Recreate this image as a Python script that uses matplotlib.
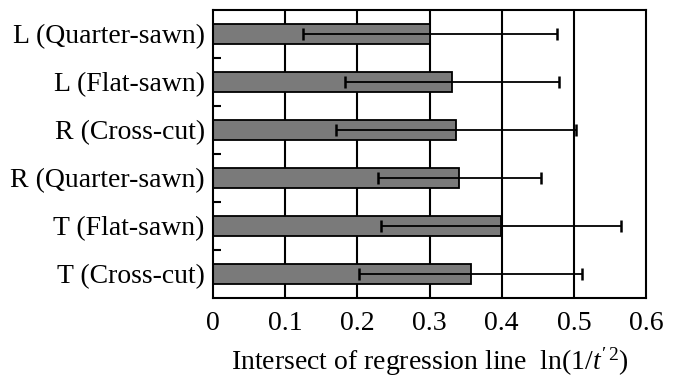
import matplotlib
matplotlib.use("Agg")
import matplotlib.pyplot as plt
import numpy as np

categories = ["L (Quarter-sawn)", "L (Flat-sawn)", "R (Cross-cut)",
              "R (Quarter-sawn)", "T (Flat-sawn)", "T (Cross-cut)"]
values = [0.301, 0.331, 0.337, 0.341, 0.399, 0.357]
errors = [0.176, 0.148, 0.166, 0.113, 0.166, 0.155]
xticks = [0, 0.1, 0.2, 0.3, 0.4, 0.5, 0.6]
xtick_labels = ["0", "0.1", "0.2", "0.3", "0.4", "0.5", "0.6"]

plt.rcParams['font.family'] = ['Liberation Serif', 'DejaVu Serif']
plt.rcParams['mathtext.fontset'] = 'custom'
plt.rcParams['mathtext.rm'] = 'Liberation Serif'
plt.rcParams['mathtext.it'] = 'Liberation Serif:italic'

fig = plt.figure(figsize=(6.78, 3.78), dpi=100)
ax = fig.add_axes([0.3142, 0.2116, 0.9528 - 0.3142, 0.9735 - 0.2116])

y = np.arange(len(categories))
for xv in xticks[1:-1]:
    ax.axvline(xv, color='black', lw=1.5, zorder=1)
ax.barh(y, values, height=0.4, color='#7a7a7a', edgecolor='black', lw=1.3, zorder=2)
ax.errorbar(values, y, xerr=errors, fmt='none', ecolor='black', elinewidth=1.3,
            capsize=4, capthick=1.8, zorder=3)

ax.set_ylim(len(categories) - 0.5, -0.5)
ax.set_xlim(0, 0.6)
ax.set_yticks(y)
ax.set_yticklabels(categories, fontsize=20)
ax.set_yticks(np.arange(len(categories) - 1) + 0.5, minor=True)
ax.tick_params(axis='y', which='major', length=0, pad=6)
ax.tick_params(axis='y', which='minor', direction='in', length=6, width=1.5)
ax.set_xticks(xticks)
ax.set_xticklabels(xtick_labels, fontsize=20)
ax.tick_params(axis='x', length=0, pad=9)
for s in ax.spines.values():
    s.set_linewidth(1.5)
ax.set_xlabel("Intersect of regression line  ln(1/$\\mathit{t}^{\\prime\\,2}$)", fontsize=20, labelpad=7)

fig.savefig("out.png", dpi=100)
